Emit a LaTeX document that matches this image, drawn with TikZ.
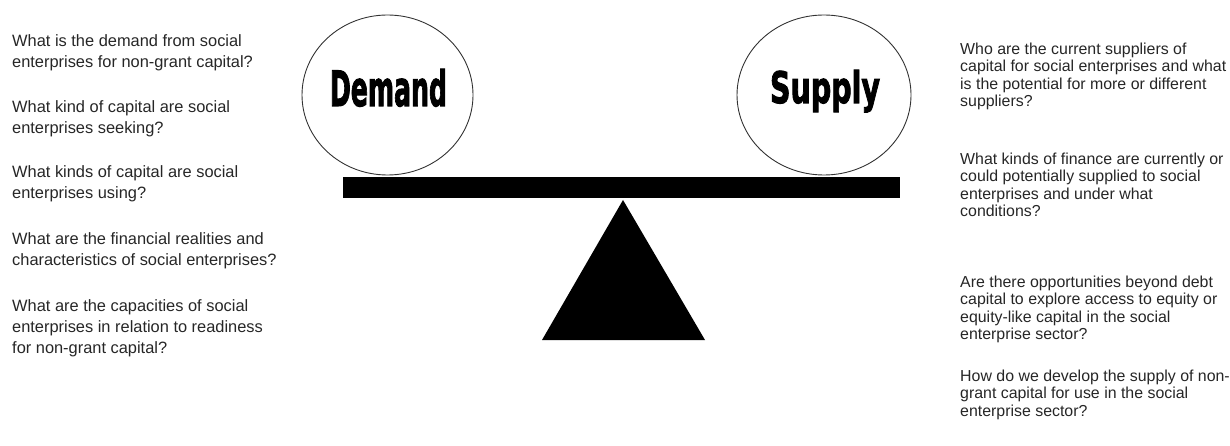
\documentclass[tikz,border=0pt]{standalone}
\usepackage{fontspec}
\setmainfont{Liberation Sans}
\newfontfamily\bigfont[BoldFeatures={FakeBold=2.5}]{DejaVu Sans}
\usetikzlibrary{shapes.geometric}
\tikzset{
  qleft/.style={anchor=north west, inner sep=0pt, align=left, font=\fontsize{16.4}{21}\selectfont, text=black!85},
  qright/.style={anchor=north west, inner sep=0pt, align=left, font=\fontsize{15.9}{17.5}\selectfont, text=black!85},
  pan/.style={draw=black!80, line width=0.9pt, ellipse, inner sep=0pt},
  word/.style={inner sep=0pt, anchor=base},
}
\begin{document}
\begin{tikzpicture}[x=1pt,y=-1pt]
\useasboundingbox (0,0) rectangle (1230,446);
% scale
\node[pan, minimum width=171pt, minimum height=160pt] (dcirc) at (387.5,95) {};
\node[pan, minimum width=174pt, minimum height=160pt] (scirc) at (824,95) {};
\node[word] (dtext) at (388.5,106) {\resizebox{117pt}{37pt}{\bigfont\bfseries Demand}};
\node[word] (stext) at (825,103) {\resizebox{110pt}{33pt}{\bigfont\bfseries Supply}};
\fill (343,177) rectangle (900,198.5);
\fill (623,200) -- (542,340) -- (705,340) -- cycle;
% left questions
\node[qleft] (l1) at (12,34) {What is the demand from social\\enterprises for non-grant capital?};
\node[qleft] (l2) at (12,100) {What kind of capital are social\\enterprises seeking?};
\node[qleft] (l3) at (12,165) {What kinds of capital are social\\enterprises using?};
\node[qleft] (l4) at (12,232) {What are the financial realities and\\characteristics of social enterprises?};
\node[qleft] (l5) at (12,299) {What are the capacities of social\\enterprises in relation to readiness\\for non-grant capital?};
% right questions
\node[qright] (r1) at (960,42.5) {Who are the current suppliers of\\capital for social enterprises and what\\is the potential for more or different\\suppliers?};
\node[qright] (r2) at (960,152.5) {What kinds of finance are currently or\\could potentially supplied to social\\enterprises and under what\\conditions?};
\node[qright] (r3) at (960,275.5) {Are there opportunities beyond debt\\capital to explore access to equity or\\equity-like capital in the social\\enterprise sector?};
\node[qright] (r4) at (960,369.5) {How do we develop the supply of non-\\grant capital for use in the social\\enterprise sector?};
\end{tikzpicture}
\end{document}
